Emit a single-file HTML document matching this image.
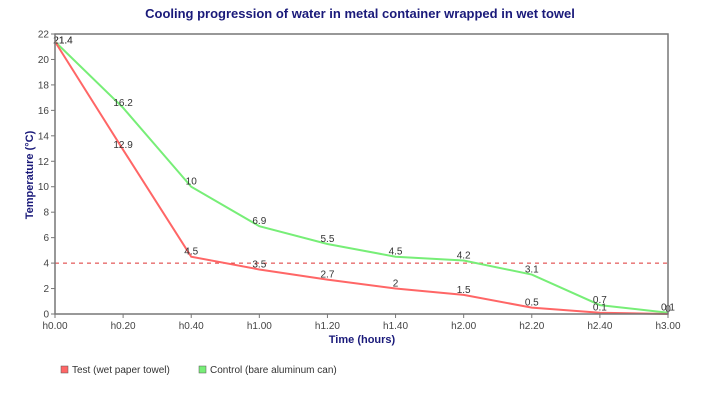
<!DOCTYPE html>
<html><head><meta charset="utf-8"><style>
body{margin:0;background:#fff;width:720px;height:400px;overflow:hidden;font-family:"Liberation Sans",sans-serif}
svg text{font-family:"Liberation Sans",sans-serif}
</style></head><body>
<svg id="chart" width="720" height="400" xmlns="http://www.w3.org/2000/svg">
<text x="360" y="18" text-anchor="middle" font-size="13" font-weight="bold" fill="#1a1a7a">Cooling progression of water in metal container wrapped in wet towel</text>
<text transform="translate(33,175) rotate(-90)" text-anchor="middle" font-size="11" font-weight="bold" fill="#1a1a7a">Temperature (°C)</text>
<text x="362" y="343" text-anchor="middle" font-size="11" font-weight="bold" fill="#1a1a7a">Time (hours)</text>
<g id="grid"></g><g id="series"></g><g id="axes"></g>
<g>
<rect x="61" y="366" width="7" height="7" fill="#ff6666" stroke="#555" stroke-width="0.5"/>
<text x="72" y="373" font-size="10" fill="#333">Test (wet paper towel)</text>
<rect x="199" y="366" width="7" height="7" fill="#77ee77" stroke="#555" stroke-width="0.5"/>
<text x="210" y="373" font-size="10" fill="#333">Control (bare aluminum can)</text>
</g>
</svg>
<script>
const categories=["h0.00","h0.20","h0.40","h1.00","h1.20","h1.40","h2.00","h2.20","h2.40","h3.00"];
const testValues=[21.4,12.9,4.5,3.5,2.7,2,1.5,0.5,0.1,0];
const controlValues=[21.4,16.2,10,6.9,5.5,4.5,4.2,3.1,0.7,0.1];
const yTicks=[0,2,4,6,8,10,12,14,16,18,20,22];
const threshold=4;
const NS="http://www.w3.org/2000/svg";
const L=55,R=668,T=34,B=314,YMAX=22;
const xs=i=>L+i*(R-L)/(categories.length-1);
const ys=v=>B-v*(B-T)/YMAX;
function mk(tag,attrs,parent,txt){const e=document.createElementNS(NS,tag);for(const k in attrs)e.setAttribute(k,attrs[k]);if(txt!==undefined)e.textContent=txt;parent.appendChild(e);return e;}
const ax=document.getElementById('axes'),sr=document.getElementById('series'),gr=document.getElementById('grid');
let f=mk('rect',{x:L,y:T,width:R-L,height:B-T,fill:'none',stroke:'#777','stroke-width':1.5},ax);


yTicks.forEach(v=>{
 let t=mk('line',{x1:L-4,x2:L,y1:ys(v),y2:ys(v),stroke:'#777'},ax);
 
 
 let l=mk('text',{x:L-6,y:ys(v)+3.5,'text-anchor':'end','font-size':10,fill:'#444'},ax,String(v));
 
 
});
categories.forEach((c,i)=>{
 let t=mk('line',{x1:xs(i),x2:xs(i),y1:B,y2:B+4,stroke:'#777'},ax);
 
 
 let l=mk('text',{x:xs(i),y:B+15,'text-anchor':'middle','font-size':10,fill:'#444'},ax,c);
 
 
});
let th=mk('line',{x1:L,x2:R,y1:ys(threshold),y2:ys(threshold),stroke:'#dd3333','stroke-dasharray':'4,4','stroke-width':1},gr);


function drawSeries(vals,color,name){
 let p=mk('polyline',{points:vals.map((v,i)=>xs(i)+','+ys(v)).join(' '),fill:'none',stroke:color,'stroke-width':2},sr);
 
 
 vals.forEach((v,i)=>{
  let t=mk('text',{x:xs(i)+ (i===0?8:0),y:ys(v)-2+(i===0?4:0),'text-anchor':'middle','font-size':10,fill:'#333'},sr,String(v));
  
  
 });
}
drawSeries(controlValues,'#77ee77','control');
drawSeries(testValues,'#ff6666','test');
</script>
</body></html>
